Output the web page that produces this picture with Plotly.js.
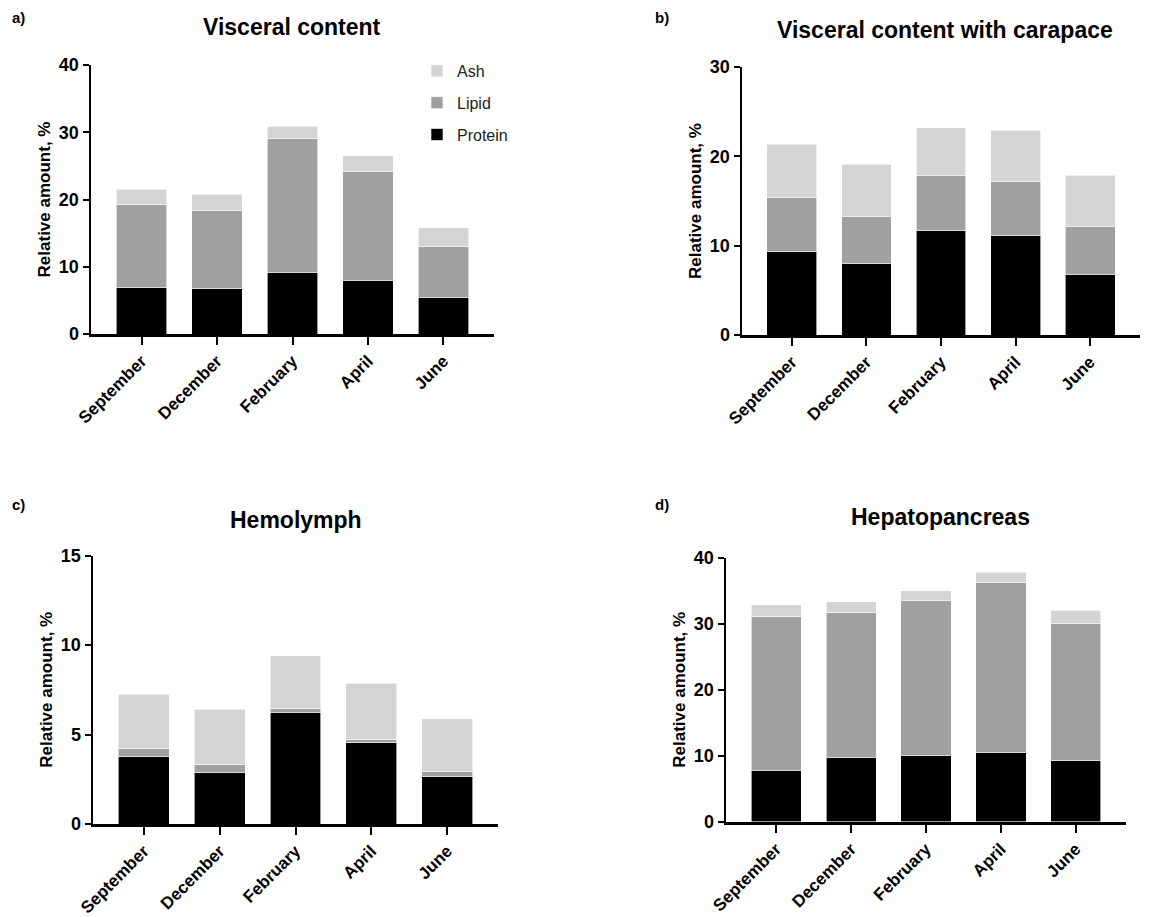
<!DOCTYPE html>
<html>
<head>
<meta charset="utf-8">
<script src="https://cdn.plot.ly/plotly-3.0.1.min.js"></script>
<style>html,body{margin:0;padding:0;background:#fff;}#chart{width:1155px;height:917px;}</style>
</head>
<body>
<div id="chart"></div>
<script>
// ---- data ----
const categories = ["September", "December", "February", "April", "June"];
const seriesNames = ["Protein", "Lipid", "Ash"];
const seriesColors = ["#000000", "#a0a0a0", "#d4d4d4"];
const legendRanks = [3, 2, 1];

const panelTitles = ["Visceral content", "Visceral content with carapace", "Hemolymph", "Hepatopancreas"];
const panelLetters = ["a)", "b)", "c)", "d)"];
const yAxisTitle = "Relative amount, %";

// a) Visceral content
const viscProtein = [6.9, 6.75, 9.2, 8.0, 5.45];
const viscLipid   = [12.3, 11.65, 19.8, 16.15, 7.5];
const viscAsh     = [2.3, 2.4, 1.9, 2.35, 2.85];
// b) Visceral content with carapace
const carProtein = [9.4, 8.0, 11.75, 11.1, 6.8];
const carLipid   = [5.95, 5.25, 6.1, 6.05, 5.35];
const carAsh     = [6.0, 5.85, 5.35, 5.75, 5.75];
// c) Hemolymph
const hemProtein = [3.75, 2.9, 6.25, 4.55, 2.63];
const hemLipid   = [0.45, 0.45, 0.22, 0.17, 0.33];
const hemAsh     = [3.05, 3.05, 2.92, 3.13, 2.92];
// d) Hepatopancreas
const hepProtein = [7.85, 9.75, 10.1, 10.5, 9.3];
const hepLipid   = [23.3, 21.9, 23.35, 25.75, 20.8];
const hepAsh     = [1.7, 1.7, 1.55, 1.5, 1.95];

const yTicks = [[0, 10, 20, 30, 40], [0, 10, 20, 30], [0, 5, 10, 15], [0, 10, 20, 30, 40]];
const yRanges = [[0, 40], [0, 30], [0, 15], [0, 40]];

// ---- layout geometry (pixels) ----
const W = 1155, H = 917;
const boxes = [
  {x0: 91, x1: 494, yTop: 65, yBot: 334},
  {x0: 742, x1: 1140, yTop: 67, yBot: 335},
  {x0: 93, x1: 498, yTop: 555.5, yBot: 824},
  {x0: 726, x1: 1126, yTop: 557.6, yBot: 822}
];
const titlePos = [{x: 292, y: 27}, {x: 945, y: 30}, {x: 296, y: 520}, {x: 940, y: 517}];
const letterPos = [{x: 18, y: 18}, {x: 662, y: 18}, {x: 18, y: 504}, {x: 662, y: 504}];

const panelData = [
  [viscProtein, viscLipid, viscAsh],
  [carProtein, carLipid, carAsh],
  [hemProtein, hemLipid, hemAsh],
  [hepProtein, hepLipid, hepAsh]
];

const FONT = "Liberation Sans, Arial, Helvetica, sans-serif";
const traces = [];
const layout = {
  width: W, height: H,
  margin: {l: 0, r: 0, t: 0, b: 0},
  paper_bgcolor: "#ffffff", plot_bgcolor: "#ffffff",
  barmode: "stack", bargap: 0.33,
  font: {family: FONT, color: "#000000"},
  showlegend: true,
  legend: {
    x: 417 / W, y: 1 - 54 / H, xanchor: "left", yanchor: "top",
    traceorder: "grouped", tracegroupgap: 8,
    font: {family: FONT, size: 16, color: "#222222"},
    bgcolor: "rgba(0,0,0,0)", itemwidth: 30
  },
  annotations: [],
  hovermode: false
};

panelData.forEach((series, p) => {
  const sfx = p === 0 ? "" : String(p + 1);
  series.forEach((vals, s) => {
    traces.push({
      type: "bar", x: categories, y: vals, name: seriesNames[s],
      xaxis: "x" + sfx, yaxis: "y" + sfx,
      marker: {color: seriesColors[s], line: {width: 0.6, color: "#ffffff"}},
      showlegend: p === 0, legendgroup: seriesNames[s], legendrank: legendRanks[s]
    });
  });
  const b = boxes[p];
  layout["xaxis" + sfx] = {
    domain: [b.x0 / W, b.x1 / W], anchor: "y" + sfx,
    type: "category", range: [-0.67, 4.67],
    showline: true, linecolor: "#000000", linewidth: 2.5,
    ticks: "outside", ticklen: 8, tickwidth: 2, tickcolor: "#000000",
    tickangle: -45, showgrid: false, zeroline: false,
    tickfont: {family: FONT, size: 17, weight: "bold", color: "#000000"}
  };
  layout["yaxis" + sfx] = {
    domain: [1 - b.yBot / H, 1 - b.yTop / H], anchor: "x" + sfx,
    range: yRanges[p], tickvals: yTicks[p],
    showline: true, linecolor: "#000000", linewidth: 2.5,
    ticks: "outside", ticklen: 6, tickwidth: 2, tickcolor: "#000000",
    showgrid: false, zeroline: false,
    tickfont: {family: FONT, size: 18, weight: "bold", color: "#000000"},
    title: {text: yAxisTitle, standoff: 4, font: {family: FONT, size: 17, weight: "bold", color: "#000000"}}
  };
  layout.annotations.push({
    xref: "paper", yref: "paper", x: titlePos[p].x / W, y: 1 - titlePos[p].y / H,
    xanchor: "center", yanchor: "middle", showarrow: false,
    text: panelTitles[p], font: {family: FONT, size: 23, weight: "bold", color: "#000000"}
  });
  layout.annotations.push({
    xref: "paper", yref: "paper", x: letterPos[p].x / W, y: 1 - letterPos[p].y / H,
    xanchor: "center", yanchor: "middle", showarrow: false,
    text: panelLetters[p], font: {family: FONT, size: 15, weight: "bold", color: "#000000"}
  });
});

Plotly.newPlot("chart", traces, layout, {staticPlot: true, displayModeBar: false});
</script>
</body>
</html>
